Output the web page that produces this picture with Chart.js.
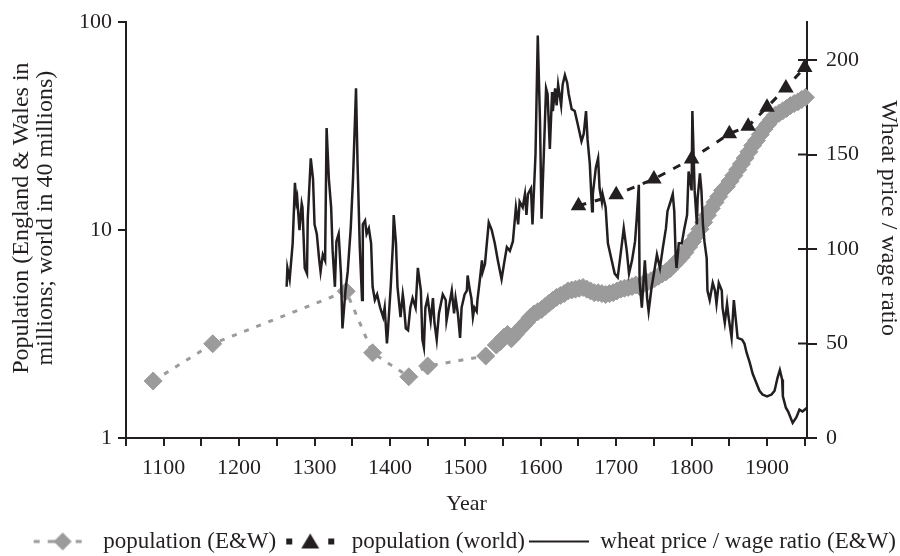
<!DOCTYPE html>
<html>
<head>
<meta charset="utf-8">
<script src="https://cdn.jsdelivr.net/npm/chart.js@4.4.1/dist/chart.umd.min.js"></script>
<style>
  html, body { margin: 0; padding: 0; background: #fff; }
  #wrap { width: 900px; height: 556px; }
</style>
</head>
<body>
<div id="wrap"><canvas id="chart" width="900" height="556"></canvas></div>
<script>
// Население Англии и Уэльса (млн)
const ewYears = [1086, 1165, 1342, 1377, 1425, 1450, 1527,
  1541, 1546, 1551, 1556, 1561, 1566, 1571, 1576, 1581, 1586, 1591, 1596,
  1601, 1606, 1611, 1616, 1621, 1626, 1631, 1636, 1641, 1646, 1651, 1656,
  1661, 1666, 1671, 1676, 1681, 1686, 1691, 1696, 1701, 1706, 1711, 1716,
  1721, 1726, 1731, 1736, 1741, 1746, 1751, 1756, 1761, 1766, 1771, 1776,
  1781, 1786, 1791, 1796, 1801, 1806, 1811, 1816, 1821, 1826, 1831, 1836,
  1841, 1846, 1851, 1856, 1861, 1866, 1871, 1876, 1881, 1886, 1891, 1896,
  1901, 1906, 1911, 1916, 1921, 1926, 1931, 1936, 1941, 1946, 1951];
const ewPop = [1.88, 2.84, 5.08, 2.57, 1.97, 2.22, 2.48,
  2.8, 2.9, 3.05, 3.15, 3.0, 3.15, 3.3, 3.45, 3.6, 3.8, 3.95, 4.05,
  4.15, 4.3, 4.45, 4.6, 4.75, 4.85, 4.95, 5.1, 5.15, 5.2, 5.25, 5.3,
  5.2, 5.1, 5.0, 5.0, 4.95, 4.9, 4.95, 5.0, 5.1, 5.2, 5.25, 5.3,
  5.35, 5.45, 5.35, 5.5, 5.6, 5.7, 5.85, 6.0, 6.15, 6.3, 6.5, 6.8,
  7.1, 7.4, 7.8, 8.3, 8.8, 9.4, 10.1, 10.9, 11.8, 12.7, 13.6, 14.5,
  15.5, 16.2, 17.2, 18.3, 19.5, 20.8, 22.2, 23.8, 25.5, 27.0, 28.8, 30.6,
  32.3, 34.0, 35.7, 36.5, 37.5, 38.5, 39.7, 40.6, 41.4, 42.5, 43.5];

// Население мира (в единицах по 40 млн)
const worldYears = [1650, 1700, 1750, 1800, 1850, 1875, 1900, 1925, 1950];
const worldPop = [13.1, 14.8, 17.6, 22.0, 29.1, 31.6, 39.0, 48.3, 60.6];

// Отношение цены пшеницы к зарплате
const wheatYears = [1263, 1264, 1267, 1271, 1274, 1276, 1277, 1280, 1283, 1284,
  1287, 1290, 1291, 1295, 1298, 1300, 1303, 1306, 1308, 1311, 1314, 1316,
  1319, 1322, 1324, 1327, 1329, 1332, 1335, 1337, 1341, 1344, 1348, 1351,
  1355, 1357, 1360, 1363, 1364, 1367, 1369, 1372, 1375, 1377, 1380, 1383,
  1387, 1391, 1393, 1396, 1397, 1401, 1404, 1405, 1408, 1410, 1414, 1417,
  1418, 1421, 1424, 1427, 1430, 1434, 1437, 1441, 1443, 1445, 1447, 1450,
  1454, 1457, 1459, 1462, 1465, 1469, 1470, 1474, 1475, 1478, 1482, 1485,
  1487, 1490, 1493, 1495, 1499, 1502, 1503, 1506, 1508, 1510, 1512, 1515,
  1516, 1519, 1522, 1523, 1526, 1528, 1531, 1535, 1539, 1543, 1548, 1552,
  1555, 1559, 1563, 1567, 1570, 1572, 1576, 1579, 1581, 1583, 1587, 1589,
  1593, 1596, 1599, 1601, 1604, 1607, 1609, 1612, 1615, 1616, 1619, 1621,
  1623, 1627, 1629, 1632, 1635, 1637, 1641, 1645, 1649, 1654, 1657, 1660,
  1662, 1665, 1668, 1669, 1673, 1676, 1678, 1681, 1682, 1686, 1689, 1694,
  1698, 1702, 1707, 1710, 1714, 1717, 1721, 1725, 1727, 1730, 1731, 1734,
  1738, 1741, 1743, 1747, 1750, 1754, 1758, 1762, 1766, 1768, 1772, 1775,
  1777, 1779, 1780, 1783, 1787, 1790, 1794, 1796, 1800, 1801, 1804, 1807,
  1808, 1811, 1813, 1815, 1817, 1820, 1821, 1824, 1828, 1831, 1833, 1836,
  1840, 1841, 1844, 1847, 1849, 1853, 1856, 1859, 1861, 1867, 1870, 1873,
  1877, 1881, 1886, 1890, 1894, 1900, 1906, 1910, 1914, 1917, 1920, 1921,
  1925, 1928, 1931, 1934, 1939, 1943, 1947, 1953];
const wheatRatio = [80, 90, 84, 103, 135, 125, 127, 110, 124, 122,
  90, 87, 116, 148, 137, 113, 108, 95, 88, 97, 94, 164,
  137, 122, 99, 80, 104, 108, 87, 58, 78, 88, 111, 137,
  185, 146, 101, 73, 113, 115, 108, 111, 103, 80, 73, 76,
  69, 64, 69, 50, 55, 80, 103, 118, 103, 80, 64, 76,
  73, 58, 57, 69, 74, 69, 90, 78, 52, 48, 69, 74,
  62, 74, 61, 52, 66, 74, 76, 73, 62, 69, 78, 66,
  74, 66, 53, 69, 76, 78, 86, 78, 74, 64, 69, 67,
  73, 83, 94, 88, 92, 101, 114, 110, 103, 94, 84, 94,
  101, 99, 104, 122, 113, 125, 122, 129, 118, 129, 132, 113,
  150, 213, 167, 116, 150, 185, 182, 153, 183, 173, 185, 176,
  187, 176, 187, 192, 188, 182, 174, 173, 166, 157, 161, 173,
  158, 145, 120, 129, 143, 148, 132, 125, 129, 122, 103, 94,
  87, 85, 101, 111, 99, 87, 94, 104, 115, 134, 83, 69,
  94, 74, 67, 80, 87, 97, 90, 101, 111, 120, 125, 129,
  120, 95, 90, 103, 103, 110, 118, 141, 131, 173, 131, 113,
  127, 140, 131, 113, 104, 95, 78, 73, 82, 78, 71, 82,
  78, 69, 61, 71, 64, 53, 73, 61, 53, 52, 50, 45,
  40, 34, 29, 25, 23, 22, 23, 25, 32, 36, 31, 22,
  16, 14, 11, 8, 11, 15, 14, 16];

// Деления осей
const xTickYears = [1050, 1100, 1150, 1200, 1250, 1300, 1350, 1400, 1450, 1500,
  1550, 1600, 1650, 1700, 1750, 1800, 1850, 1900, 1950];
const xLabelYears = [1100, 1200, 1300, 1400, 1500, 1600, 1700, 1800, 1900];
const leftTicks = [1, 10, 100];
const rightTicks = [0, 50, 100, 150, 200];

const FONT = "'Liberation Serif', 'Times New Roman', serif";
const INK = '#231f20';
const GREY = '#9b9b9b';

const toPoints = (xs, ys) => xs.map((x, i) => ({ x, y: ys[i] }));

// Значки легенды: линия + маркер
function makeSymbol(kind) {
  const c = document.createElement('canvas');
  c.width = 60;
  c.height = 22;
  const g = c.getContext('2d');
  const cy = 11;
  if (kind === 'ew') {
    g.fillStyle = GREY;
    g.fillRect(2, cy - 1.5, 6, 3);
    g.fillRect(16, cy - 1.5, 8, 3);
    g.fillRect(44, cy - 1.5, 6, 3);
    g.beginPath();
    g.moveTo(31, cy - 9);
    g.lineTo(40, cy);
    g.lineTo(31, cy + 9);
    g.lineTo(22, cy);
    g.closePath();
    g.fill();
  } else if (kind === 'world') {
    g.fillStyle = INK;
    g.fillRect(6, cy - 3, 6, 6);
    g.fillRect(48, cy - 3, 6, 6);
    g.beginPath();
    g.moveTo(30, cy - 8);
    g.lineTo(39, cy + 7);
    g.lineTo(21, cy + 7);
    g.closePath();
    g.fill();
  } else {
    g.strokeStyle = INK;
    g.lineWidth = 2;
    g.beginPath();
    g.moveTo(0, cy);
    g.lineTo(60, cy);
    g.stroke();
  }
  return c;
}

const symbols = [makeSymbol('ew'), makeSymbol('world'), makeSymbol('wheat')];

// Засечки правой оси, пересекающие линию оси
const innerTicks = {
  id: 'innerTicks',
  afterDraw(chart) {
    const { ctx, chartArea, scales } = chart;
    ctx.save();
    ctx.strokeStyle = INK;
    ctx.lineWidth = 2;
    rightTicks.forEach((v) => {
      const y = scales.y2.getPixelForValue(v);
      ctx.beginPath();
      ctx.moveTo(chartArea.right - 9, y);
      ctx.lineTo(chartArea.right, y);
      ctx.stroke();
    });
    ctx.restore();
  },
};

const axisGrid = {
  drawOnChartArea: false,
  drawTicks: true,
  tickLength: 8,
  color: INK,
  lineWidth: 2,
};
const axisBorder = { display: true, color: INK, width: 2 };

new Chart(document.getElementById('chart'), {
  type: 'line',
  data: {
    datasets: [
      {
        label: 'population (E&W)',
        data: toPoints(ewYears, ewPop),
        yAxisID: 'y',
        order: 3,
        borderColor: GREY,
        backgroundColor: GREY,
        borderWidth: 3,
        borderDash: [5, 8],
        pointStyle: 'rectRot',
        pointRadius: 9,
        pointBorderWidth: 1,
        pointBorderColor: GREY,
        pointBackgroundColor: GREY,
        clip: false,
      },
      {
        label: 'wheat price / wage ratio (E&W)',
        data: toPoints(wheatYears, wheatRatio),
        yAxisID: 'y2',
        order: 2,
        borderColor: INK,
        borderWidth: 2.5,
        pointRadius: 0,
        tension: 0,
      },
      {
        label: 'population (world)',
        data: toPoints(worldYears, worldPop),
        yAxisID: 'y',
        order: 1,
        borderColor: INK,
        backgroundColor: INK,
        borderWidth: 3,
        borderDash: [8, 9],
        pointStyle: 'triangle',
        pointRadius: 9,
        pointBorderWidth: 0,
        pointBackgroundColor: INK,
        clip: false,
      },
    ],
  },
  options: {
    responsive: false,
    animation: false,
    devicePixelRatio: 1,
    layout: { padding: { top: 19, left: 0, right: 0, bottom: -7 } },
    plugins: {
      tooltip: { enabled: false },
      legend: {
        position: 'bottom',
        align: 'end',
        labels: {
          usePointStyle: true,
          pointStyleWidth: 60,
          padding: 4,
          color: INK,
          font: { family: FONT, size: 23 },
          generateLabels: () => [
            { text: 'population (E&W)', pointStyle: symbols[0], fontColor: INK, hidden: false, datasetIndex: 0, lineWidth: 0 },
            { text: 'population (world)', pointStyle: symbols[1], fontColor: INK, hidden: false, datasetIndex: 2, lineWidth: 0 },
            { text: 'wheat price / wage ratio (E&W)', pointStyle: symbols[2], fontColor: INK, hidden: false, datasetIndex: 1, lineWidth: 0 },
          ],
        },
      },
    },
    scales: {
      x: {
        type: 'linear',
        position: 'bottom',
        min: 1050,
        max: 1953,
        afterFit: (scale) => { scale.height = 88; },
        afterBuildTicks: (scale) => { scale.ticks = xTickYears.map((v) => ({ value: v })); },
        border: axisBorder,
        grid: axisGrid,
        ticks: {
          autoSkip: false,
          maxRotation: 0,
          padding: 9,
          color: INK,
          font: { family: FONT, size: 22 },
          callback: (v) => (xLabelYears.includes(v) ? String(v) : ''),
        },
        title: {
          display: true,
          text: 'Year',
          color: INK,
          font: { family: FONT, size: 22 },
          padding: { top: 0, bottom: 9 },
        },
      },
      y: {
        type: 'logarithmic',
        position: 'left',
        min: 1,
        max: 100,
        afterFit: (scale) => { scale.width = 126; },
        afterBuildTicks: (scale) => { scale.ticks = leftTicks.map((v) => ({ value: v })); },
        border: axisBorder,
        grid: axisGrid,
        ticks: {
          padding: 6,
          color: INK,
          font: { family: FONT, size: 22 },
          callback: (v) => String(v),
        },
        title: {
          display: true,
          // ведущий пробел смещает подпись вверх, как в оригинале
          text: ['\u2003Population (England & Wales in', '\u2003millions; world in 40 millions)'],
          color: INK,
          font: { family: FONT, size: 24, lineHeight: 1.0 },
          padding: { top: 10, bottom: 0 },
        },
      },
      y2: {
        type: 'linear',
        position: 'right',
        min: 0,
        max: 220,
        afterFit: (scale) => { scale.width = 93; },
        afterBuildTicks: (scale) => { scale.ticks = rightTicks.map((v) => ({ value: v })); },
        border: axisBorder,
        grid: { ...axisGrid, tickLength: 10 },
        ticks: {
          padding: 9,
          color: INK,
          font: { family: FONT, size: 22 },
        },
        title: {
          display: true,
          text: 'Wheat price / wage ratio\u2003',
          color: INK,
          font: { family: FONT, size: 24, lineHeight: 1.0 },
          padding: { top: 0, bottom: 0 },
        },
      },
    },
  },
  plugins: [innerTicks],
});
</script>
</body>
</html>
